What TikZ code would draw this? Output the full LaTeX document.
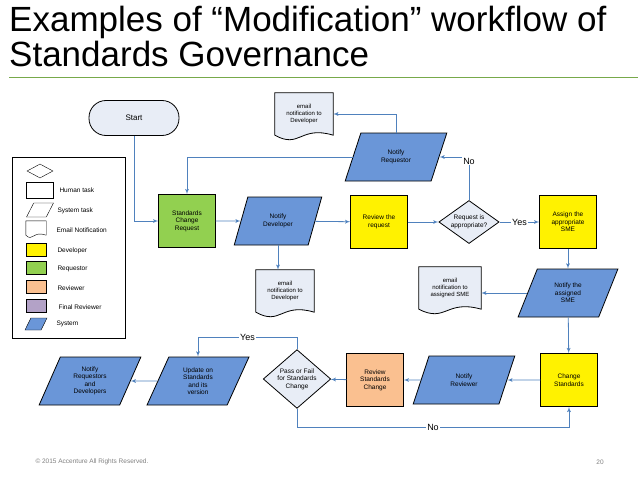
\documentclass[tikz,border=0pt]{standalone}
\usepackage{fontspec}
\setmainfont{Liberation Sans}
\usetikzlibrary{positioning,shapes.geometric,arrows,calc,backgrounds}
\definecolor{flowblue}{HTML}{4F81BD}
\definecolor{sysblue}{HTML}{6A96D8}
\definecolor{paleblue}{HTML}{E8EDF6}
\definecolor{reqgreen}{HTML}{92D050}
\definecolor{revorange}{HTML}{FAC090}
\definecolor{finpurple}{HTML}{B3A2C7}
\definecolor{titlegreen}{HTML}{77A94A}
\tikzstyle{task} = [rectangle, draw, thick, text centered, align=center, %
   minimum width=54, minimum height=53, text width=50, font=\fontsize{6.5}{7.5}\selectfont]
\tikzstyle{systask} = [trapezium, trapezium left angle=68, trapezium right angle=112, %
   trapezium stretches=true, draw, thick, fill=sysblue, align=center, %
   minimum width=102, minimum height=48, font=\fontsize{6.5}{7.5}\selectfont]
\tikzstyle{decision} = [diamond, draw, thick, fill=paleblue, aspect=1.4, inner sep=1pt, %
   align=center, font=\fontsize{6.5}{7.5}\selectfont]
\tikzstyle{docbox} = [rectangle, minimum width=58, minimum height=42, align=center, %
   font=\fontsize{6}{7}\selectfont]
\tikzstyle{docline} = [draw, thick, fill=paleblue]
\tikzstyle{line} = [draw, flowblue, thick, -latex']
\tikzstyle{lbl} = [font=\fontsize{9}{10}\selectfont, text=black, fill=white, inner sep=1pt]
\tikzstyle{keytext} = [anchor=west, font=\fontsize{6.5}{7.5}\selectfont]

\begin{document}
\begin{tikzpicture}[x=1pt, y=-1pt]
   \useasboundingbox (0,0) rectangle (638,479);

   % Title
   \node[anchor=base west, font=\fontsize{35}{40}\selectfont, inner sep=0](title1) at (9,31)
      {Examples of “Modification” workflow of};
   \node[anchor=base west, font=\fontsize{35}{40}\selectfont, inner sep=0](title2) at (9,66)
      {Standards Governance};
   \draw[titlegreen] (9,77) -- (638,77);

   % Place nodes
   \node[draw, thick, fill=paleblue, rounded corners=17, minimum width=90, minimum height=35, %
      font=\fontsize{8}{9}\selectfont](start) at (134,118){Start};
   \node[docbox](mailreq) at (304,114){email\\notification to\\Developer};
   \node[systask](notifyreq) at (396,157){Notify\\Requestor};
   \node[task, fill=reqgreen](request) at (187,221){Standards\\Change\\Request};
   \node[systask, minimum width=88](notifydev) at (278,221){Notify\\Developer};
   \node[docbox](maildev) at (285,291){email\\notification to\\Developer};
   \node[task, fill=yellow](review) at (379,222){Review the\\request};
   \node[decision](approp) at (469,222){Request is\\appropriate?};
   \node[task, fill=yellow](assign) at (568,222){Assign the\\appropriate\\SME};
   \node[systask, minimum width=100](notifysme) at (568,293){Notify the\\assigned\\SME};
   \node[docbox, minimum width=62](mailsme) at (450,288){email\\notification to\\assigned SME};
   \node[task, fill=yellow](change) at (569,380){Change\\Standards};
   \node[systask](notifyrev) at (464,380){Notify\\Reviewer};
   \node[task, fill=revorange](revstd) at (375,380){Review\\Standards\\Change};
   \node[decision, aspect=1.15](passfail) at (297,379){Pass or Fail\\for Standards\\Change};
   \node[systask](update) at (198,381){Update on\\Standards\\and its\\version};
   \node[systask](notifyall) at (90,381){Notify\\Requestors\\and\\Developers};

   % Email documents
   \begin{scope}[on background layer]
      \foreach \d in {mailreq, maildev, mailsme}{
         \path[docline] (\d.north west) -- (\d.north east) -- (\d.south east)
            .. controls ($(\d.south)+(-4,-10)$) and ($(\d.south)+(-4,14)$) .. (\d.south west) -- cycle;
      }
   \end{scope}

   % Draw edges
   \path [line] (start.south) |- (request.west);
   \path [line] (request) -- (notifydev);
   \path [line] (notifydev.south) -- (maildev.north -| notifydev.south);
   \path [line] (notifydev) -- (review);
   \path [line] (review) -- (approp);
   \path [line] (approp) -- node[lbl]{Yes} (assign);
   \path [line] (approp.north) |- node[lbl, pos=0.45]{No} (notifyreq.east);
   \path [line] (notifyreq.north) |- (mailreq.east);
   \path [line] (notifyreq.west) -| (request.north);
   \path [line] (assign) -- (notifysme);
   \path [line] (notifysme.west) -- (mailsme.east |- notifysme.west);
   \path [line] (notifysme) -- (change);
   \path [line] (change) -- (notifyrev);
   \path [line] (notifyrev) -- (revstd);
   \path [line] (revstd) -- (passfail);
   \path [line] (passfail.north) |- ++(0,-12) -| node[lbl, pos=0.25]{Yes} (update.north);
   \path [line] (passfail.south) |- ++(0,19) -| node[lbl, pos=0.25]{No} (change.south);
   \path [line] (update) -- (notifyall);

   % Legend
   \node[draw, thick, minimum width=113, minimum height=181](legend) at (69,248){};
   \node[diamond, draw, aspect=1.6, minimum width=26, minimum height=14, inner sep=0](keydec) at (40,171){};
   \node[draw, minimum width=27, minimum height=16](keyhuman) at (40,190){};
   \node[trapezium, trapezium left angle=60, trapezium right angle=120, trapezium stretches=true, %
      draw, minimum width=27, minimum height=14](keysys) at (40,210){};
   \node[rectangle, minimum width=20, minimum height=14](keymail) at (36,228){};
   \path[draw] (keymail.north west) -- (keymail.north east) -- (keymail.south east)
      .. controls ($(keymail.south)+(-3,-5)$) and ($(keymail.south)+(-3,7)$) .. (keymail.south west) -- cycle;
   \node[draw, fill=yellow, minimum width=20, minimum height=13](keydev) at (36,250){};
   \node[draw, fill=reqgreen, minimum width=20, minimum height=13](keyreq) at (36,268){};
   \node[draw, fill=revorange, minimum width=20, minimum height=13](keyrev) at (36,287){};
   \node[draw, fill=finpurple, minimum width=20, minimum height=13](keyfin) at (36,306){};
   \node[trapezium, trapezium left angle=60, trapezium right angle=120, trapezium stretches=true, %
      draw, fill=sysblue, minimum width=22, minimum height=12](keyblue) at (36,324){};
   \node[keytext] at (56,190){Human task};
   \node[keytext] at (54,211){System task};
   \node[keytext] at (53,230){Email Notification};
   \node[keytext] at (54,251){Developer};
   \node[keytext] at (54,269){Requestor};
   \node[keytext] at (54,288){Reviewer};
   \node[keytext] at (55,307){Final Reviewer};
   \node[keytext] at (53,324){System};

   % Footer
   \node[anchor=west, gray, font=\fontsize{6.5}{7.5}\selectfont](copy) at (32,462)
      {© 2015 Accenture  All Rights Reserved.};
   \node[gray, font=\fontsize{6.5}{7.5}\selectfont](page) at (600,462){20};
\end{tikzpicture}
\end{document}
